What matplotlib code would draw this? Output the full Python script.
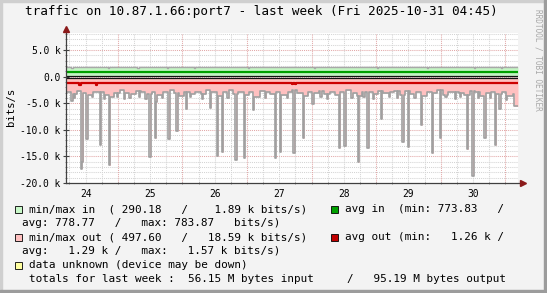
import numpy as np
import matplotlib
matplotlib.use("Agg")
import matplotlib.pyplot as plt
from matplotlib.patches import Rectangle

# ---- data (kbit/s), one week, 30 min steps ----
day_labels = ["24", "25", "26", "27", "28", "29", "30"]
first_noon_h = 7.25          # hours from left edge to Oct 24 12:00

# max out baseline, one value per 2 hours (84 values), kbit/s (drawn negative)
max_out_base = [
    -2.9, -3.3, -2.7, -3.0, -3.5, -2.8, -2.9, -3.4, -3.8, -3.0, -2.6, -3.1,
    -3.3, -2.7, -2.8, -3.2, -2.9, -3.5, -2.8, -2.6, -3.0, -3.6, -2.9, -3.2,
    -2.8, -3.3, -2.6, -2.9, -3.7, -2.8, -2.6, -3.2, -2.9, -3.4, -2.8, -3.8,
    -2.7, -2.9, -3.3, -2.8, -3.5, -2.9, -2.6, -3.1, -3.6, -2.8, -3.0, -2.7,
    -3.2, -2.8, -3.4, -2.9, -2.6, -3.0, -3.7, -2.8, -2.9, -3.3, -2.7, -3.1,
    -2.9, -2.7, -3.5, -2.7, -3.2, -2.9, -3.6, -2.8, -3.0, -2.6, -3.4, -2.9,
    -2.8, -3.1, -3.5, -2.7, -2.9, -3.7, -3.0, -2.8, -3.3, -2.9, -3.6, -3.2,
]
notch_hours = [3.0, 9.5, 14.0, 19.0, 23.5, 27.0, 29.5, 35.5, 46.0, 50.5, 60.0,
               71.5, 74.0, 82.0, 94.5, 97.0, 106.0, 110.5, 114.0, 120.0, 123.0,
               129.5, 141.0, 144.5, 146.5, 153.0, 157.5, 163.5]
notch_vals = [-4.0, -3.9, -4.2, -3.8, -4.1, -3.9, -4.3, -4.0, -3.8, -4.2, -4.0,
              -3.9, -4.1, -4.0, -3.8, -4.2, -4.0, -3.9, -4.3, -3.8, -4.1, -4.0,
              -3.9, -4.2, -3.8, -4.0, -4.1, -4.4]
spike_hours = [1.75, 5.5, 6.0, 7.3, 12.3, 16.2, 21.6, 31.2, 33.1, 33.6, 38.0,
               41.0, 44.5, 53.4, 55.9, 57.9, 62.8, 65.8, 69.4, 77.7, 79.5,
               84.5, 88.2, 91.3, 101.5, 103.3, 108.3, 112.1, 117.1, 125.2,
               127.0, 132.0, 135.9, 138.9, 148.9, 150.8, 155.7, 159.7, 161.1,
               166.5, 167.0, 167.5]
spike_vals = [-4.5, -17.3, -16.0, -11.8, -12.8, -16.7, -4.2, -15.1, -11.6, -4.7,
              -11.8, -10.3, -6.1, -5.9, -14.9, -14.2, -15.6, -15.3, -6.2, -15.3,
              -14.1, -14.4, -11.6, -5.1, -13.4, -13.1, -16.1, -13.4, -7.9, -12.3,
              -13.2, -9.1, -14.4, -11.6, -13.7, -18.6, -11.5, -12.9, -6.1,
              -5.6, -5.6, -5.6]

max_in_level = 1.85
max_in_dip_hours = [2.2, 15.5, 26.3, 37.4, 47.6, 67.5, 91.9, 115.5, 134.0, 151.3, 161.3]
max_in_dip_vals = [1.6, 1.65, 1.6, 1.6, 1.7, 1.6, 1.6, 1.65, 1.6, 1.6, 1.65]
min_in_level = 0.2
avg_in_level = 0.78
min_out_level = -0.35
avg_out_level = -1.29
avg_out_blip_hours = [4.8, 10.8, 84.0, 85.0]
avg_out_blip_vals = [-1.5, -1.5, -1.45, -1.45]

n = 336
t = np.arange(n + 1) * 0.5

def series(level_or_base, events=(), rep=1):
    s = np.repeat(np.array(level_or_base, dtype=float), rep) if rep > 1 \
        else np.full(n, float(level_or_base))
    for hours, vals in events:
        for h, v in zip(hours, vals):
            s[min(int(round(h * 2)), n - 1)] = v
    return np.append(s, s[-1])

max_out = series(max_out_base, [(notch_hours, notch_vals), (spike_hours, spike_vals)], rep=4)
max_in = series(max_in_level, [(max_in_dip_hours, max_in_dip_vals)])
min_in = series(min_in_level)
avg_in = series(avg_in_level)
min_out = series(min_out_level)
avg_out = series(avg_out_level, [(avg_out_blip_hours, avg_out_blip_vals)])

# ---- figure ----
W, H = 547, 293
fig = plt.figure(figsize=(W / 100, H / 100), dpi=100)
fig.patch.set_facecolor("#f3f3f3")
mono = "DejaVu Sans Mono"

# 3d frame
fig.patches.append(Rectangle((0, 0), 2 / W, 1, transform=fig.transFigure, color="#cfcfcf"))
fig.patches.append(Rectangle((0, 1 - 2 / H), 1, 2 / H, transform=fig.transFigure, color="#cfcfcf"))
fig.patches.append(Rectangle((1 - 3 / W, 0), 3 / W, 1, transform=fig.transFigure, color="#9c9c9c"))
fig.patches.append(Rectangle((0, 0), 1, 3 / H, transform=fig.transFigure, color="#9c9c9c"))

x0, x1, ytop, ybot = 66, 518, 33, 183
ax = fig.add_axes([x0 / W, (H - ybot) / H, (x1 - x0) / W, (ybot - ytop) / H])
ax.set_facecolor("white")
ax.set_xlim(0, 168)
ax.set_ylim(-20, 8.2)

# grid
dot = (0, (1, 1))
for y in range(-19, 9):
    c = "#e2a8a8" if y % 5 == 0 else "#d4d4d4"
    ax.axhline(y, color=c, lw=0.75, ls=dot, zorder=1)
for h in np.arange(1.25, 168, 6):
    major = abs(((h - 19.25) / 24) - round((h - 19.25) / 24)) < 1e-6
    ax.axvline(h, color="#e2a8a8" if major else "#d4d4d4", lw=0.75, ls=dot, zorder=1)

# data
ax.fill_between(t, min_in, max_in, step="post", color="#c4f5c4", lw=0, zorder=2)
ax.fill_between(t, min_out, max_out, step="post", color="#ffc0c0", lw=0, zorder=2)
ax.step(t, max_in, where="post", color="#a8a8a8", lw=1.0, zorder=3)
ax.step(t, max_out, where="post", color="#a0a0a0", lw=1.2, zorder=3)
ax.step(t, min_in, where="post", color="#111111", lw=0.9, zorder=3)
ax.step(t, min_out, where="post", color="#111111", lw=0.9, zorder=3)
ax.step(t, avg_in, where="post", color="#00a000", lw=1.6, zorder=4)
ax.step(t, avg_out, where="post", color="#cc0000", lw=1.6, zorder=4)

# axes lines with arrows
for s in ax.spines.values():
    s.set_visible(False)
ax.plot([0, 1.012], [0, 0], transform=ax.transAxes, color="#404040", lw=0.9, clip_on=False, zorder=6)
ax.plot([0, 0], [0, 1.03], transform=ax.transAxes, color="#404040", lw=0.9, clip_on=False, zorder=6)
ax.plot(1.012, 0, ">", transform=ax.transAxes, color="#8b1a1a", ms=4, clip_on=False, zorder=7)
ax.plot(0, 1.03, "^", transform=ax.transAxes, color="#8b1a1a", ms=4, clip_on=False, zorder=7)

yt = [5, 0, -5, -10, -15, -20]
ax.set_yticks(yt)
ax.set_yticklabels(["5.0 k", "0.0", "-5.0 k", "-10.0 k", "-15.0 k", "-20.0 k"],
                   fontfamily=mono, fontsize=6.9)
ax.set_yticks(range(-19, 9), minor=True)
ax.set_xticks([first_noon_h + 24 * i for i in range(7)])
ax.set_xticklabels(day_labels, fontfamily=mono, fontsize=6.9)
ax.set_xticks(np.arange(1.25, 168, 6), minor=True)
ax.tick_params(axis="both", which="major", direction="inout", length=4, width=0.8,
               color="#404040", pad=2)
ax.tick_params(axis="both", which="minor", direction="inout", length=2, width=0.6,
               color="#808080")
ax.tick_params(axis="x", which="major", length=0, pad=4)

fig.text(261 / W, 1 - 12 / H, "traffic on 10.87.1.66:port7 - last week (Fri 2025-10-31 04:45)",
         ha="center", va="center", fontfamily=mono, fontsize=9.1, color="black")
fig.text(11 / W, 1 - 107 / H, "bits/s", rotation=90, ha="center", va="center",
         fontfamily=mono, fontsize=7.6)
fig.text(538 / W, 1 - 60 / H, "RRDTOOL / TOBI OETIKER", rotation=270, ha="center",
         va="center", fontfamily=mono, fontsize=5.6, color="#a8a8a8")

# legend
fs = 7.9
def box(x, y, c):
    fig.patches.append(Rectangle(((x) / W, 1 - (y + 3.5) / H), 7 / W, 7 / H,
                                 transform=fig.transFigure, facecolor=c,
                                 edgecolor="black", lw=0.6))

def txt(x, y, s):
    fig.text(x / W, 1 - y / H, s, ha="left", va="center", fontfamily=mono, fontsize=fs)

box(15, 209, "#c8f8c8")
txt(29, 209, "min/max in  ( 290.18   /    1.89 k bits/s)")
box(331, 209, "#00a000")
txt(345, 209, "avg in  (min: 773.83   /")
txt(22, 223, "avg: 778.77   /   max: 783.87   bits/s)")
box(15, 237, "#ffc0c0")
txt(29, 237, "min/max out ( 497.60   /   18.59 k bits/s)")
box(331, 237, "#c00000")
txt(345, 237, "avg out (min:   1.26 k /")
txt(22, 251, "avg:   1.29 k /   max:   1.57 k bits/s)")
box(15, 265, "#ffffa0")
txt(29, 265, "data unknown (device may be down)")
txt(29, 279, "totals for last week :  56.15 M bytes input     /   95.19 M bytes output")

fig.savefig("out.png", dpi=100, facecolor=fig.get_facecolor())
